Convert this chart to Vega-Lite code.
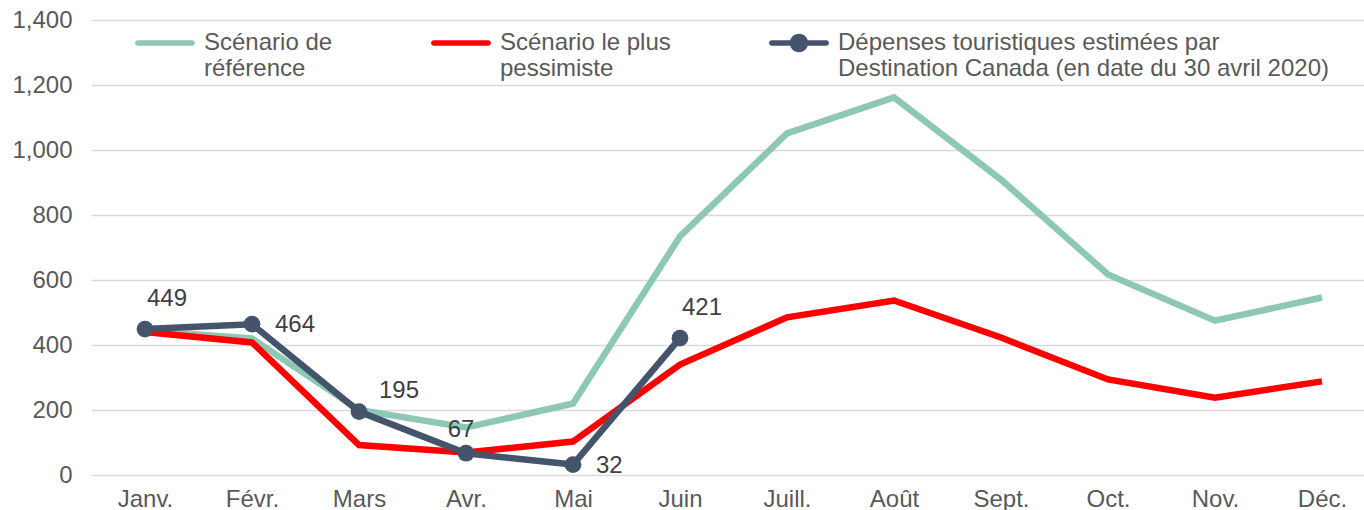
{
  "$schema": "https://vega.github.io/schema/vega-lite/v6.json",
  "width": 1273,
  "height": 455,
  "autosize": {"type": "none"},
  "padding": {"left": 91, "top": 20, "right": 0, "bottom": 35},
  "config": {"view": {"stroke": null}, "font": "Liberation Sans"},
  "data": {
    "values": [
      {"mois": "Janv.", "serie": "Scénario de référence", "valeur": 445},
      {"mois": "Févr.", "serie": "Scénario de référence", "valeur": 420},
      {"mois": "Mars", "serie": "Scénario de référence", "valeur": 200},
      {"mois": "Avr.", "serie": "Scénario de référence", "valeur": 146},
      {"mois": "Mai", "serie": "Scénario de référence", "valeur": 220},
      {"mois": "Juin", "serie": "Scénario de référence", "valeur": 734},
      {"mois": "Juill.", "serie": "Scénario de référence", "valeur": 1051},
      {"mois": "Août", "serie": "Scénario de référence", "valeur": 1162},
      {"mois": "Sept.", "serie": "Scénario de référence", "valeur": 909},
      {"mois": "Oct.", "serie": "Scénario de référence", "valeur": 617},
      {"mois": "Nov.", "serie": "Scénario de référence", "valeur": 475},
      {"mois": "Déc.", "serie": "Scénario de référence", "valeur": 546},
      {"mois": "Janv.", "serie": "Scénario le plus pessimiste", "valeur": 440},
      {"mois": "Févr.", "serie": "Scénario le plus pessimiste", "valeur": 408},
      {"mois": "Mars", "serie": "Scénario le plus pessimiste", "valeur": 92},
      {"mois": "Avr.", "serie": "Scénario le plus pessimiste", "valeur": 69},
      {"mois": "Mai", "serie": "Scénario le plus pessimiste", "valeur": 103},
      {"mois": "Juin", "serie": "Scénario le plus pessimiste", "valeur": 340},
      {"mois": "Juill.", "serie": "Scénario le plus pessimiste", "valeur": 485},
      {"mois": "Août", "serie": "Scénario le plus pessimiste", "valeur": 537},
      {"mois": "Sept.", "serie": "Scénario le plus pessimiste", "valeur": 423},
      {"mois": "Oct.", "serie": "Scénario le plus pessimiste", "valeur": 294},
      {"mois": "Nov.", "serie": "Scénario le plus pessimiste", "valeur": 238},
      {"mois": "Déc.", "serie": "Scénario le plus pessimiste", "valeur": 288},
      {"mois": "Janv.", "serie": "Dépenses touristiques estimées par Destination Canada (en date du 30 avril 2020)", "valeur": 449},
      {"mois": "Févr.", "serie": "Dépenses touristiques estimées par Destination Canada (en date du 30 avril 2020)", "valeur": 464},
      {"mois": "Mars", "serie": "Dépenses touristiques estimées par Destination Canada (en date du 30 avril 2020)", "valeur": 195},
      {"mois": "Avr.", "serie": "Dépenses touristiques estimées par Destination Canada (en date du 30 avril 2020)", "valeur": 67},
      {"mois": "Mai", "serie": "Dépenses touristiques estimées par Destination Canada (en date du 30 avril 2020)", "valeur": 32},
      {"mois": "Juin", "serie": "Dépenses touristiques estimées par Destination Canada (en date du 30 avril 2020)", "valeur": 421}
    ]
  },
  "encoding": {
    "x": {
      "field": "mois",
      "type": "ordinal",
      "sort": ["Janv.", "Févr.", "Mars", "Avr.", "Mai", "Juin", "Juill.", "Août", "Sept.", "Oct.", "Nov.", "Déc."],
      "scale": {"type": "point", "padding": 0.4486, "align": 0.5625},
      "axis": {
        "title": null,
        "labelAngle": 0,
        "labelFontSize": 24,
        "labelColor": "#595959",
        "labelPadding": 12,
        "labelBaseline": "top",
        "ticks": false,
        "domain": false,
        "grid": false
      }
    },
    "y": {
      "field": "valeur",
      "type": "quantitative",
      "scale": {"domain": [0, 1400], "nice": false},
      "axis": {
        "title": null,
        "values": [0, 200, 400, 600, 800, 1000, 1200, 1400],
        "format": ",.0f",
        "labelFontSize": 24,
        "labelColor": "#595959",
        "labelPadding": 19,
        "ticks": false,
        "domain": false,
        "gridColor": "#d9d9d9",
        "gridWidth": 1.5
      }
    }
  },
  "layer": [
    {
      "mark": {"type": "line", "strokeWidth": 6.5, "strokeJoin": "miter"},
      "encoding": {
        "color": {
          "field": "serie",
          "type": "nominal",
          "scale": {
            "domain": ["Scénario de référence", "Scénario le plus pessimiste", "Dépenses touristiques estimées par Destination Canada (en date du 30 avril 2020)"],
            "range": ["#8DC8B4", "#FF0000", "#44546A"]
          },
          "legend": {
            "title": null,
            "orient": "none",
            "legendX": 46,
            "legendY": -5,
            "direction": "horizontal",
            "columns": 3,
            "gridAlign": "none",
            "columnPadding": 98,
            "symbolSize": 3136,
            "labelOffset": 11,
            "labelFontSize": 24,
            "labelColor": "#595959",
            "labelLimit": 700,
            "labelBaseline": "middle",
            "labelLineHeight": 30,
            "labelExpr": "datum.label == 'Scénario de référence' ? ['Scénario de', 'référence'] : datum.label == 'Scénario le plus pessimiste' ? ['Scénario le plus', 'pessimiste'] : ['Dépenses touristiques estimées par', 'Destination Canada (en date du 30 avril 2020)']",
            "encode": {
              "symbols": {
                "update": {
                  "shape": {"signal": "indexof(datum.value, 'Dépenses') == 0 ? 'M-0.97,-0.1 H0.97 A0.1,0.1 0 0,1 0.97,0.1 H-0.97 A0.1,0.1 0 0,1 -0.97,-0.1 Z M-0.33,0 A0.33,0.33 0 1,1 0.33,0 A0.33,0.33 0 1,1 -0.33,0 Z' : 'M-0.97,-0.1 H0.97 A0.1,0.1 0 0,1 0.97,0.1 H-0.97 A0.1,0.1 0 0,1 -0.97,-0.1 Z'"},
                  "fill": {"scale": "color", "field": "value"},
                  "strokeWidth": {"value": 0},
                  "size": {"value": 3136}
                }
              }
            }
          }
        }
      }
    },
    {
      "transform": [{"filter": "indexof(datum.serie, 'Dépenses') == 0"}],
      "mark": {"type": "point", "filled": true, "size": 280, "opacity": 1, "color": "#44546A"}
    },
    {
      "transform": [{"filter": "indexof(datum.serie, 'Dépenses') == 0 && (datum.mois == 'Janv.' || datum.mois == 'Juin')"}],
      "mark": {"type": "text", "dx": 22, "dy": -30, "fontSize": 24, "color": "#404040"},
      "encoding": {"text": {"field": "valeur", "type": "quantitative"}}
    },
    {
      "transform": [{"filter": "indexof(datum.serie, 'Dépenses') == 0 && (datum.mois == 'Févr.' || datum.mois == 'Mai')"}],
      "mark": {"type": "text", "align": "left", "dx": 23, "dy": 1, "fontSize": 24, "color": "#404040"},
      "encoding": {"text": {"field": "valeur", "type": "quantitative"}}
    },
    {
      "transform": [{"filter": "indexof(datum.serie, 'Dépenses') == 0 && datum.mois == 'Mars'"}],
      "mark": {"type": "text", "dx": 40, "dy": -21, "fontSize": 24, "color": "#404040"},
      "encoding": {"text": {"field": "valeur", "type": "quantitative"}}
    },
    {
      "transform": [{"filter": "indexof(datum.serie, 'Dépenses') == 0 && datum.mois == 'Avr.'"}],
      "mark": {"type": "text", "dx": -5, "dy": -23, "fontSize": 24, "color": "#404040"},
      "encoding": {"text": {"field": "valeur", "type": "quantitative"}}
    }
  ]
}
